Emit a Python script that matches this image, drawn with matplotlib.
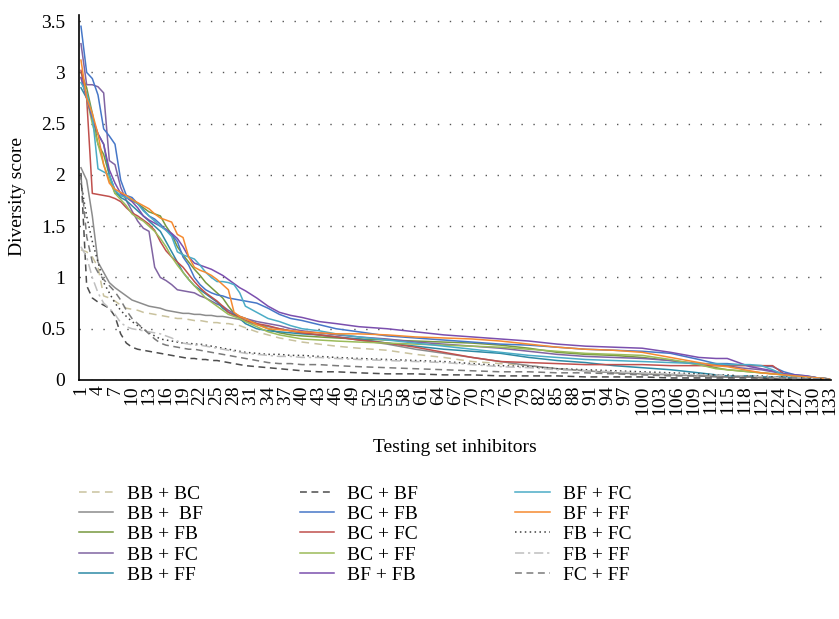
import matplotlib
matplotlib.use('Agg')
import matplotlib.pyplot as plt

plt.rcParams['font.family'] = ['Liberation Serif', 'DejaVu Serif']

# testing set inhibitor index at which values were read
x_idx = [1, 2, 3, 4, 5, 6, 7, 8, 9, 10,
         11, 12, 13, 14, 15, 16, 17, 18, 19, 20,
         21, 22, 23, 24, 25, 26, 27, 28, 29, 30,
         32, 34, 36, 38, 40,
         43, 46, 50,
         55, 60, 65, 70, 75, 80, 85, 90, 95, 100, 105,
         110, 113, 115, 117, 119, 121, 123, 125, 127, 129, 131, 133]

bb_bc = [1.27, 1.25, 1.20, 1.10, 0.82, 0.80, 0.77, 0.73, 0.70, 0.69,
         0.68, 0.66, 0.65, 0.64, 0.63, 0.62, 0.61, 0.60, 0.60, 0.59,
         0.58, 0.58, 0.57, 0.56, 0.56, 0.55, 0.55, 0.54, 0.53, 0.51,
         0.47, 0.44, 0.41, 0.39, 0.37,
         0.35, 0.33, 0.31,
         0.29, 0.25, 0.22, 0.18, 0.16, 0.14, 0.11, 0.09, 0.07, 0.06, 0.05,
         0.04, 0.04, 0.03, 0.03, 0.03, 0.02, 0.02, 0.02, 0.02, 0.01, 0.01, 0.01]

bb_bf = [2.07, 1.95, 1.60, 1.15, 1.05, 0.95, 0.90, 0.86, 0.82, 0.78,
         0.76, 0.74, 0.72, 0.71, 0.70, 0.68, 0.67, 0.66, 0.65, 0.65,
         0.64, 0.64, 0.63, 0.63, 0.62, 0.62, 0.61, 0.60, 0.59, 0.57,
         0.54, 0.52, 0.50, 0.48, 0.46,
         0.44, 0.42, 0.39,
         0.35, 0.30, 0.26, 0.22, 0.18, 0.14, 0.11, 0.09, 0.07, 0.06, 0.05,
         0.04, 0.04, 0.03, 0.03, 0.03, 0.03, 0.02, 0.02, 0.02, 0.01, 0.01, 0.01]

bb_fb = [3.00, 2.85, 2.60, 2.30, 2.20, 2.00, 1.82, 1.80, 1.78, 1.75,
         1.72, 1.68, 1.64, 1.62, 1.60, 1.50, 1.42, 1.30, 1.22, 1.15,
         1.08, 1.02, 0.95, 0.90, 0.85, 0.80, 0.72, 0.65, 0.62, 0.60,
         0.55, 0.50, 0.46, 0.44, 0.43,
         0.42, 0.41, 0.40,
         0.39, 0.38, 0.37, 0.36, 0.34, 0.31, 0.27, 0.25, 0.24, 0.22, 0.19,
         0.15, 0.12, 0.10, 0.09, 0.08, 0.07, 0.06, 0.05, 0.04, 0.03, 0.02, 0.01]

bb_fc = [3.28, 2.88, 2.88, 2.86, 2.80, 2.14, 2.10, 1.88, 1.75, 1.65,
         1.55, 1.48, 1.45, 1.10, 1.00, 0.97, 0.93, 0.88, 0.87, 0.86,
         0.85, 0.82, 0.80, 0.77, 0.74, 0.72, 0.68, 0.65, 0.62, 0.60,
         0.57, 0.55, 0.53, 0.50, 0.48,
         0.46, 0.44, 0.42,
         0.40, 0.37, 0.35, 0.33, 0.31, 0.28, 0.25, 0.23, 0.22, 0.21, 0.19,
         0.16, 0.15, 0.14, 0.12, 0.11, 0.10, 0.08, 0.06, 0.05, 0.03, 0.02, 0.01]

bb_ff = [2.85, 2.75, 2.55, 2.40, 2.30, 2.00, 1.85, 1.78, 1.75, 1.70,
         1.65, 1.60, 1.55, 1.50, 1.45, 1.35, 1.25, 1.15, 1.05, 0.98,
         0.92, 0.88, 0.84, 0.80, 0.76, 0.70, 0.66, 0.64, 0.60, 0.55,
         0.50, 0.48, 0.47, 0.46, 0.45,
         0.44, 0.42, 0.40,
         0.36, 0.33, 0.30, 0.28, 0.26, 0.22, 0.19, 0.17, 0.14, 0.12, 0.10,
         0.07, 0.05, 0.04, 0.04, 0.04, 0.03, 0.03, 0.03, 0.02, 0.02, 0.01, 0.01]

bc_bf = [2.02, 0.92, 0.80, 0.76, 0.73, 0.70, 0.62, 0.45, 0.36, 0.32,
         0.30, 0.29, 0.28, 0.27, 0.26, 0.25, 0.24, 0.23, 0.22, 0.21,
         0.21, 0.20, 0.20, 0.19, 0.19, 0.18, 0.17, 0.16, 0.15, 0.14,
         0.13, 0.12, 0.11, 0.10, 0.09,
         0.08, 0.08, 0.07,
         0.06, 0.06, 0.05, 0.05, 0.04, 0.04, 0.04, 0.03, 0.03, 0.03, 0.02,
         0.02, 0.02, 0.02, 0.02, 0.02, 0.02, 0.01, 0.01, 0.01, 0.01, 0.01, 0.01]

bc_fb = [3.45, 3.00, 2.94, 2.78, 2.45, 2.38, 2.30, 1.95, 1.80, 1.78,
         1.72, 1.66, 1.60, 1.57, 1.52, 1.46, 1.42, 1.35, 1.20, 1.12,
         1.00, 0.93, 0.88, 0.85, 0.83, 0.82, 0.80, 0.79, 0.78, 0.77,
         0.75, 0.70, 0.64, 0.60, 0.58,
         0.54, 0.50, 0.47,
         0.43, 0.41, 0.39, 0.37, 0.35, 0.34, 0.32, 0.30, 0.29, 0.28, 0.26,
         0.20, 0.16, 0.16, 0.15, 0.14, 0.14, 0.13, 0.08, 0.05, 0.04, 0.02, 0.01]

bc_fc = [3.02, 2.75, 1.82, 1.81, 1.80, 1.79, 1.77, 1.74, 1.68, 1.63,
         1.60, 1.56, 1.52, 1.46, 1.35, 1.26, 1.20, 1.15, 1.10, 1.03,
         0.96, 0.90, 0.85, 0.81, 0.77, 0.72, 0.66, 0.63, 0.61, 0.58,
         0.55, 0.53, 0.50, 0.48, 0.46,
         0.44, 0.42, 0.39,
         0.36, 0.32, 0.27, 0.22, 0.18, 0.17, 0.16, 0.15, 0.15, 0.15, 0.14,
         0.14, 0.14, 0.14, 0.14, 0.14, 0.14, 0.14, 0.06, 0.04, 0.03, 0.02, 0.01]

bc_ff = [2.95, 2.75, 2.50, 2.30, 2.10, 1.95, 1.82, 1.76, 1.70, 1.62,
         1.58, 1.55, 1.50, 1.45, 1.38, 1.30, 1.20, 1.12, 1.05, 0.98,
         0.92, 0.86, 0.80, 0.76, 0.72, 0.68, 0.64, 0.62, 0.60, 0.57,
         0.52, 0.47, 0.44, 0.42, 0.40,
         0.39, 0.38, 0.37,
         0.36, 0.35, 0.34, 0.33, 0.32, 0.30, 0.28, 0.26, 0.25, 0.24, 0.20,
         0.15, 0.11, 0.10, 0.09, 0.08, 0.07, 0.06, 0.05, 0.04, 0.03, 0.02, 0.01]

bf_fb = [2.95, 2.75, 2.55, 2.40, 2.30, 2.05, 1.92, 1.82, 1.78, 1.74,
         1.68, 1.60, 1.56, 1.53, 1.50, 1.47, 1.43, 1.38, 1.30, 1.20,
         1.14, 1.12, 1.10, 1.08, 1.05, 1.02, 0.98, 0.94, 0.90, 0.87,
         0.80, 0.72, 0.66, 0.63, 0.61,
         0.57, 0.55, 0.52,
         0.50, 0.47, 0.44, 0.42, 0.40, 0.38, 0.35, 0.33, 0.32, 0.31, 0.27,
         0.22, 0.21, 0.21, 0.17, 0.13, 0.11, 0.09, 0.06, 0.05, 0.04, 0.02, 0.01]

bf_fc = [2.90, 2.80, 2.58, 2.06, 2.03, 2.00, 1.85, 1.80, 1.78, 1.76,
         1.72, 1.65, 1.60, 1.55, 1.50, 1.46, 1.40, 1.25, 1.22, 1.20,
         1.18, 1.12, 1.05, 1.00, 0.96, 0.96, 0.95, 0.93, 0.85, 0.72,
         0.66, 0.60, 0.57, 0.53, 0.50,
         0.48, 0.45, 0.42,
         0.39, 0.36, 0.33, 0.30, 0.27, 0.24, 0.22, 0.20, 0.19, 0.18, 0.17,
         0.16, 0.16, 0.15, 0.15, 0.15, 0.14, 0.10, 0.05, 0.04, 0.03, 0.02, 0.01]

bf_ff = [3.12, 2.75, 2.60, 2.40, 2.10, 1.92, 1.86, 1.83, 1.80, 1.76,
         1.73, 1.70, 1.67, 1.62, 1.58, 1.56, 1.54, 1.42, 1.39, 1.20,
         1.10, 1.07, 1.05, 1.02, 0.98, 0.93, 0.88, 0.66, 0.62, 0.60,
         0.54, 0.50, 0.49, 0.48, 0.47,
         0.46, 0.45, 0.45,
         0.44, 0.42, 0.41, 0.40, 0.38, 0.35, 0.32, 0.30, 0.29, 0.27, 0.22,
         0.17, 0.14, 0.13, 0.11, 0.09, 0.07, 0.06, 0.05, 0.04, 0.03, 0.02, 0.01]

fb_fc = [1.92, 1.60, 1.35, 1.15, 0.95, 0.85, 0.75, 0.68, 0.62, 0.57,
         0.53, 0.50, 0.46, 0.43, 0.40, 0.39, 0.38, 0.37, 0.36, 0.36,
         0.35, 0.35, 0.34, 0.33, 0.32, 0.31, 0.30, 0.29, 0.28, 0.27,
         0.26, 0.25, 0.25, 0.24, 0.24,
         0.23, 0.22, 0.21,
         0.20, 0.19, 0.18, 0.16, 0.14, 0.13, 0.11, 0.10, 0.09, 0.08, 0.07,
         0.06, 0.05, 0.05, 0.04, 0.04, 0.04, 0.03, 0.03, 0.02, 0.02, 0.01, 0.01]

fb_ff = [1.30, 1.20, 1.00, 0.85, 0.75, 0.70, 0.64, 0.56, 0.52, 0.50,
         0.49, 0.48, 0.47, 0.46, 0.45, 0.43, 0.41, 0.38, 0.36, 0.35,
         0.34, 0.34, 0.33, 0.32, 0.31, 0.30, 0.29, 0.28, 0.27, 0.26,
         0.25, 0.24, 0.23, 0.23, 0.22,
         0.22, 0.21, 0.20,
         0.19, 0.18, 0.17, 0.15, 0.13, 0.12, 0.10, 0.09, 0.08, 0.07, 0.06,
         0.05, 0.05, 0.04, 0.04, 0.04, 0.03, 0.03, 0.02, 0.02, 0.02, 0.01, 0.01]

fc_ff = [1.98, 1.40, 1.15, 1.05, 0.98, 0.92, 0.86, 0.78, 0.68, 0.60,
         0.55, 0.50, 0.45, 0.40, 0.36, 0.34, 0.33, 0.32, 0.31, 0.30,
         0.30, 0.29, 0.28, 0.27, 0.26, 0.25, 0.24, 0.23, 0.22, 0.21,
         0.19, 0.17, 0.16, 0.16, 0.15,
         0.15, 0.14, 0.13,
         0.12, 0.11, 0.10, 0.09, 0.08, 0.08, 0.07, 0.07, 0.06, 0.05, 0.04,
         0.04, 0.03, 0.03, 0.03, 0.03, 0.02, 0.02, 0.02, 0.02, 0.01, 0.01, 0.01]

# label, values, colour, linestyle
series = [
    ('BB + BC', bb_bc, '#c9c29e', (0, (5, 3.5))),
    ('BB +  BF', bb_bf, '#8c8c8c', '-'),
    ('BB + FB', bb_fb, '#77993f', '-'),
    ('BB + FC', bb_fc, '#8064a2', '-'),
    ('BB + FF', bb_ff, '#2e8aa5', '-'),
    ('BC + BF', bc_bf, '#4d4d4d', (0, (4.5, 3))),
    ('BC + FB', bc_fb, '#4677c8', '-'),
    ('BC + FC', bc_fc, '#c0504d', '-'),
    ('BC + FF', bc_ff, '#9bbb59', '-'),
    ('BF + FB', bf_fb, '#7b4fae', '-'),
    ('BF + FC', bf_fc, '#4bacc6', '-'),
    ('BF + FF', bf_ff, '#f58a30', '-'),
    ('FB + FC', fb_fc, '#404040', (0, (1, 2.2))),
    ('FB + FF', fb_ff, '#bfbfbf', (0, (6, 2.5, 1.5, 2.5))),
    ('FC + FF', fc_ff, '#7a7a7a', (0, (4.5, 3))),
]

fig = plt.figure(figsize=(8.39, 6.19), dpi=100)
ax = fig.add_axes([79 / 839, 1 - 380 / 619, (831 - 79) / 839, (380 - 15) / 619])

for label, vals, col, ls in series:
    ax.plot(x_idx, vals, color=col, linestyle=ls, linewidth=1.1, label=label)

ax.set_xlim(0.65, 133.3)
ax.set_ylim(0, 3.56)
yt = [0, 0.5, 1, 1.5, 2, 2.5, 3, 3.5]
ax.set_yticks(yt)
ax.set_yticklabels(['0', '0.5', '1', '1.5', '2', '2.5', '3', '3.5'])
xt = list(range(1, 134, 3))
ax.set_xticks(xt)
ax.set_xticklabels([str(v) for v in xt], rotation=90)
ax.tick_params(axis='y', length=0, labelsize=14, pad=10)
ax.tick_params(axis='x', length=0, labelsize=14, pad=4)

ax.yaxis.grid(True, color='#555555', linestyle=(0, (1, 7.6)), linewidth=1.0)
ax.set_axisbelow(True)
for s in ['top', 'right']:
    ax.spines[s].set_visible(False)
for s in ['left', 'bottom']:
    ax.spines[s].set_linewidth(1.2)
    ax.spines[s].set_color('black')

fig.text(18 / 839, 1 - 197 / 619, 'Diversity score', rotation=90,
         ha='center', va='center', fontsize=14)
fig.text(455 / 839, 1 - 447 / 619, 'Testing set inhibitors',
         ha='center', va='center', fontsize=14)

fig.legend(loc='upper left', bbox_to_anchor=(79 / 839, 1 - 485 / 619), ncol=3,
           frameon=False, fontsize=14, handlelength=1.75, handletextpad=0.7,
           columnspacing=5.0, labelspacing=0.14, borderpad=0, borderaxespad=0)

fig.savefig('out.png', dpi=100)
